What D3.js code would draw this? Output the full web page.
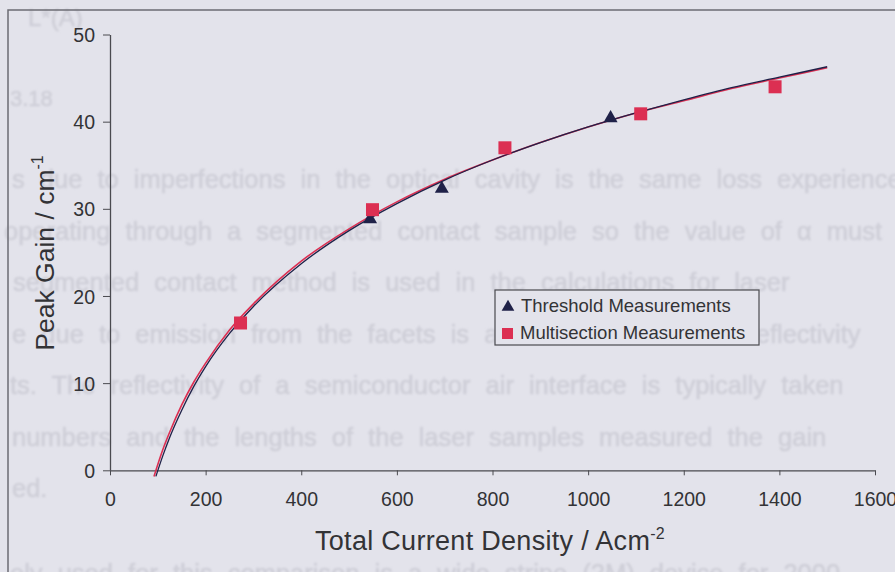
<!DOCTYPE html>
<html>
<head>
<meta charset="utf-8">
<script src="https://cdn.jsdelivr.net/npm/d3@7"></script>
<style>
  html, body { margin: 0; padding: 0; background: #e3e3eb; }
  svg { display: block; font-family: "Liberation Sans", Arial, sans-serif; }
</style>
</head>
<body>
<svg id="chart" width="895" height="572"></svg>
<script>
// Axis ticks
const xTicks = [0, 200, 400, 600, 800, 1000, 1200, 1400, 1600];
const yTicks = [0, 10, 20, 30, 40, 50];

// Threshold measurements (current density in A/cm², peak gain in 1/cm)
const thresholdJ = [544, 694, 1047];
const thresholdGain = [28.8, 32.3, 40.4];

// Multisection measurements
const multiJ = [273, 549, 826, 1110, 1391];
const multiGain = [16.9, 29.9, 37.0, 40.9, 44.0];

// Fitted gain curves
const thresholdFitJ = [96, 110, 125, 150, 175, 200, 250, 300, 400, 500, 600, 700, 800, 900, 1000, 1100, 1200, 1300, 1400, 1500];
const thresholdFitGain = [-0.7, 1.6, 3.8, 6.9, 9.6, 11.9, 15.7, 18.8, 23.7, 27.5, 30.6, 33.3, 35.6, 37.6, 39.4, 41.0, 42.5, 43.9, 45.1, 46.3];
const multiFitJ = [92, 110, 125, 150, 175, 200, 250, 300, 400, 500, 600, 700, 800, 900, 1000, 1100, 1200, 1300, 1400, 1500];
const multiFitGain = [-0.7, 2.3, 4.4, 7.5, 10.1, 12.3, 16.1, 19.1, 24.0, 27.7, 30.8, 33.4, 35.6, 37.6, 39.4, 41.0, 42.4, 43.8, 45.0, 46.2];

// Legend entries
const legendLabels = ["Threshold Measurements", "Multisection Measurements"];

// Faint lines of page text showing through the paper
const pageText = [
  "s due to imperfections in the optical cavity is the same loss experienced",
  "operating through a segmented contact sample so the value of α must",
  "segmented contact method is used in the calculations for laser",
  "e due to emission from the facets is accounted for in the reflectivity",
  "ts. The reflectivity of a semiconductor air interface is typically taken",
  "numbers and the lengths of the laser samples measured the gain",
  "ed."
];

const svg = d3.select("#chart");
const W = 895, H = 572;

const C = {
  bg: "#e3e3eb",
  ghost: "#cfcfd8",
  axis: "#4a4a4f",
  text: "#333336",
  navy: "#1f2148",
  red: "#dc2f52",
  frame: "#6c6c74"
};

svg.append("rect").attr("width", W).attr("height", H).attr("fill", C.bg);

// show-through text layer
const defs = svg.append("defs");
defs.append("filter").attr("id", "soft")
  .append("feGaussianBlur").attr("stdDeviation", 1);

const ghost = svg.append("g")
  .attr("filter", "url(#soft)")
  .attr("fill", C.ghost)
  .attr("stroke", C.ghost)
  .attr("stroke-width", 0.6)
  .attr("font-size", 25.5)
  .attr("word-spacing", 8);

ghost.append("text").attr("x", 28).attr("y", 26).attr("font-size", 24).text("L*(A)");
ghost.append("text").attr("x", 10).attr("y", 106).attr("font-size", 22).text("3.18");
const ghostStart = [12, 4, 13, 12, 10, 12, 12];
pageText.forEach((t, i) => {
  ghost.append("text")
    .attr("x", ghostStart[i])
    .attr("y", 188 + i * 51.5)
    .text(t);
});
ghost.append("text").attr("x", 10).attr("y", 582)
  .text("ely used for this comparison is a wide stripe (2M) device for 2000");

// frame around the figure
svg.append("path")
  .attr("d", `M8,${H} V10 H${W}`)
  .attr("fill", "none")
  .attr("stroke", C.frame)
  .attr("stroke-width", 1.5);

// scales
const x = d3.scaleLinear().domain([0, 1600]).range([110, 875]);
const y = d3.scaleLinear().domain([0, 50]).range([470.3, 34.5]);

// axes
const xAxis = d3.axisBottom(x).tickValues(xTicks).tickFormat(d3.format("d"))
  .tickSize(5).tickSizeOuter(0).tickPadding(17);
const yAxis = d3.axisLeft(y).tickValues(yTicks).tickFormat(d3.format("d"))
  .tickSize(7).tickSizeOuter(0).tickPadding(8);

const gx = svg.append("g").attr("transform", `translate(0,${y(0)})`).call(xAxis);
const gy = svg.append("g").attr("transform", `translate(${x(0)},0)`).call(yAxis);

[gx, gy].forEach(g => {
  g.selectAll("path.domain").attr("stroke", C.axis).attr("stroke-width", 1.3);
  g.selectAll(".tick line").attr("stroke", C.axis).attr("stroke-width", 1);
  g.selectAll(".tick text")
    .attr("fill", C.text)
    .attr("font-size", 19.5)
    .attr("font-family", "'Liberation Sans', Arial, sans-serif");
});
gy.selectAll(".tick text").attr("dy", "0.36em");

// axis titles
const xTitle = svg.append("text")
  .attr("x", 490).attr("y", 550)
  .attr("text-anchor", "middle")
  .attr("fill", C.text)
  .attr("font-size", 27)
  .attr("letter-spacing", 0.3);
xTitle.append("tspan").text("Total Current Density / Acm");
xTitle.append("tspan").attr("dy", -11).attr("font-size", 16).text("-2");

const yTitle = svg.append("text")
  .attr("transform", "translate(54,253) rotate(-90)")
  .attr("text-anchor", "middle")
  .attr("fill", C.text)
  .attr("font-size", 26.5);
yTitle.append("tspan").text("Peak Gain / cm");
yTitle.append("tspan").attr("dy", -11).attr("font-size", 16).text("-1");

// fitted curves
const line = d3.line().x(d => x(d[0])).y(d => y(d[1])).curve(d3.curveMonotoneX);

svg.append("path")
  .datum(multiFitJ.map((j, i) => [j, multiFitGain[i]]))
  .attr("d", line)
  .attr("fill", "none")
  .attr("stroke", C.red)
  .attr("stroke-width", 1.6);

svg.append("path")
  .datum(thresholdFitJ.map((j, i) => [j, thresholdFitGain[i]]))
  .attr("d", line)
  .attr("fill", "none")
  .attr("stroke", C.navy)
  .attr("stroke-width", 1.3);

// markers
const tri = d3.symbol().type(d3.symbolTriangle).size(85);
const sq = 13;

svg.append("g").selectAll("path")
  .data(thresholdJ.map((j, i) => [j, thresholdGain[i]]))
  .join("path")
  .attr("d", tri)
  .attr("transform", d => `translate(${x(d[0])},${y(d[1])})`)
  .attr("fill", C.navy);

svg.append("g").selectAll("rect")
  .data(multiJ.map((j, i) => [j, multiGain[i]]))
  .join("rect")
  .attr("x", d => x(d[0]) - sq / 2)
  .attr("y", d => y(d[1]) - sq / 2)
  .attr("width", sq).attr("height", sq)
  .attr("fill", C.red);

// legend
const lg = svg.append("g").attr("transform", "translate(495,290)");
lg.append("rect")
  .attr("width", 264).attr("height", 55)
  .attr("fill", C.bg)
  .attr("stroke", C.axis).attr("stroke-width", 1.2);

lg.append("path").attr("d", d3.symbol().type(d3.symbolTriangle).size(70))
  .attr("transform", "translate(13,17)").attr("fill", C.navy);
lg.append("rect").attr("x", 7).attr("y", 38).attr("width", 11).attr("height", 11).attr("fill", C.red);

legendLabels.forEach((t, i) => {
  lg.append("text")
    .attr("x", 26 - (i ? 1 : 0))
    .attr("y", 22 + i * 27)
    .attr("fill", C.text)
    .attr("font-size", 18.5)
    .text(t);
});
</script>
</body>
</html>
